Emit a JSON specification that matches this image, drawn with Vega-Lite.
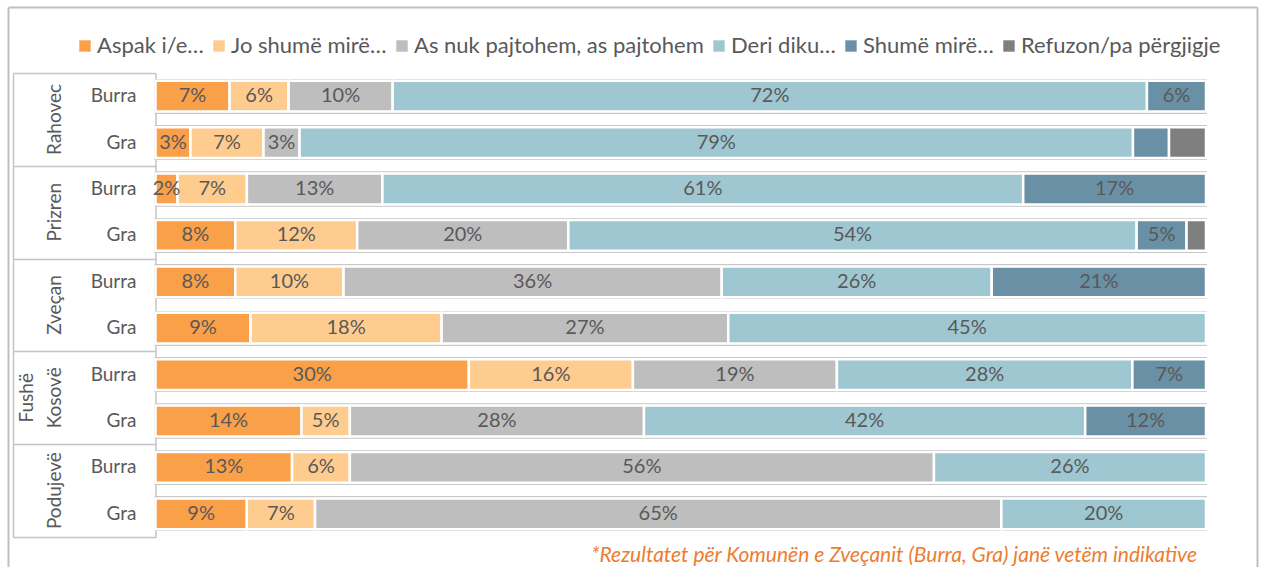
{
  "$schema": "https://vega.github.io/schema/vega-lite/v6.json",
  "width": 1249,
  "height": 560,
  "autosize": {"type": "none"},
  "padding": {"left": 8, "top": 7, "right": 4, "bottom": 0},
  "background": "white",
  "config": {"view": {"stroke": null}, "font": "Lato"},
  "title": {
    "text": "*Rezultatet për Komunën e Zveçanit (Burra, Gra) janë vetëm indikative",
    "orient": "bottom", "anchor": "end", "frame": "group", "offset": -5, "baseline": "alphabetic", "dx": -60,
    "font": "Lato", "fontSize": 21, "fontStyle": "italic", "fontWeight": "normal", "color": "#ED7D31"
  },
  "data": {"values": [
    {"m": "Rahovec", "g": "Burra", "key": "Rahovec|Burra", "cat": "Aspak i/e…", "k": 1, "v": 7.05, "label": "7%"},
    {"m": "Rahovec", "g": "Burra", "key": "Rahovec|Burra", "cat": "Jo shumë mirë…", "k": 2, "v": 5.62, "label": "6%"},
    {"m": "Rahovec", "g": "Burra", "key": "Rahovec|Burra", "cat": "As nuk pajtohem, as pajtohem", "k": 3, "v": 9.9, "label": "10%"},
    {"m": "Rahovec", "g": "Burra", "key": "Rahovec|Burra", "cat": "Deri diku…", "k": 4, "v": 71.8, "label": "72%"},
    {"m": "Rahovec", "g": "Burra", "key": "Rahovec|Burra", "cat": "Shumë mirë…", "k": 5, "v": 5.62, "label": "6%"},
    {"m": "Rahovec", "g": "Gra", "key": "Rahovec|Gra", "cat": "Aspak i/e…", "k": 1, "v": 3.33, "label": "3%"},
    {"m": "Rahovec", "g": "Gra", "key": "Rahovec|Gra", "cat": "Jo shumë mirë…", "k": 2, "v": 6.95, "label": "7%"},
    {"m": "Rahovec", "g": "Gra", "key": "Rahovec|Gra", "cat": "As nuk pajtohem, as pajtohem", "k": 3, "v": 3.43, "label": "3%"},
    {"m": "Rahovec", "g": "Gra", "key": "Rahovec|Gra", "cat": "Deri diku…", "k": 4, "v": 79.3, "label": "79%"},
    {"m": "Rahovec", "g": "Gra", "key": "Rahovec|Gra", "cat": "Shumë mirë…", "k": 5, "v": 3.43, "label": ""},
    {"m": "Rahovec", "g": "Gra", "key": "Rahovec|Gra", "cat": "Refuzon/pa përgjigje", "k": 6, "v": 3.52, "label": ""},
    {"m": "Prizren", "g": "Burra", "key": "Prizren|Burra", "cat": "Aspak i/e…", "k": 1, "v": 2.1, "label": "2%"},
    {"m": "Prizren", "g": "Burra", "key": "Prizren|Burra", "cat": "Jo shumë mirë…", "k": 2, "v": 6.6, "label": "7%"},
    {"m": "Prizren", "g": "Burra", "key": "Prizren|Burra", "cat": "As nuk pajtohem, as pajtohem", "k": 3, "v": 12.9, "label": "13%"},
    {"m": "Prizren", "g": "Burra", "key": "Prizren|Burra", "cat": "Deri diku…", "k": 4, "v": 61.0, "label": "61%"},
    {"m": "Prizren", "g": "Burra", "key": "Prizren|Burra", "cat": "Shumë mirë…", "k": 5, "v": 17.4, "label": "17%"},
    {"m": "Prizren", "g": "Gra", "key": "Prizren|Gra", "cat": "Aspak i/e…", "k": 1, "v": 7.6, "label": "8%"},
    {"m": "Prizren", "g": "Gra", "key": "Prizren|Gra", "cat": "Jo shumë mirë…", "k": 2, "v": 11.6, "label": "12%"},
    {"m": "Prizren", "g": "Gra", "key": "Prizren|Gra", "cat": "As nuk pajtohem, as pajtohem", "k": 3, "v": 20.1, "label": "20%"},
    {"m": "Prizren", "g": "Gra", "key": "Prizren|Gra", "cat": "Deri diku…", "k": 4, "v": 54.1, "label": "54%"},
    {"m": "Prizren", "g": "Gra", "key": "Prizren|Gra", "cat": "Shumë mirë…", "k": 5, "v": 4.75, "label": "5%"},
    {"m": "Prizren", "g": "Gra", "key": "Prizren|Gra", "cat": "Refuzon/pa përgjigje", "k": 6, "v": 1.85, "label": ""},
    {"m": "Zveçan", "g": "Burra", "key": "Zveçan|Burra", "cat": "Aspak i/e…", "k": 1, "v": 7.6, "label": "8%"},
    {"m": "Zveçan", "g": "Burra", "key": "Zveçan|Burra", "cat": "Jo shumë mirë…", "k": 2, "v": 10.3, "label": "10%"},
    {"m": "Zveçan", "g": "Burra", "key": "Zveçan|Burra", "cat": "As nuk pajtohem, as pajtohem", "k": 3, "v": 36.0, "label": "36%"},
    {"m": "Zveçan", "g": "Burra", "key": "Zveçan|Burra", "cat": "Deri diku…", "k": 4, "v": 25.7, "label": "26%"},
    {"m": "Zveçan", "g": "Burra", "key": "Zveçan|Burra", "cat": "Shumë mirë…", "k": 5, "v": 20.4, "label": "21%"},
    {"m": "Zveçan", "g": "Gra", "key": "Zveçan|Gra", "cat": "Aspak i/e…", "k": 1, "v": 9.05, "label": "9%"},
    {"m": "Zveçan", "g": "Gra", "key": "Zveçan|Gra", "cat": "Jo shumë mirë…", "k": 2, "v": 18.2, "label": "18%"},
    {"m": "Zveçan", "g": "Gra", "key": "Zveçan|Gra", "cat": "As nuk pajtohem, as pajtohem", "k": 3, "v": 27.3, "label": "27%"},
    {"m": "Zveçan", "g": "Gra", "key": "Zveçan|Gra", "cat": "Deri diku…", "k": 4, "v": 45.5, "label": "45%"},
    {"m": "Fushë Kosovë", "g": "Burra", "key": "Fushë Kosovë|Burra", "cat": "Aspak i/e…", "k": 1, "v": 29.8, "label": "30%"},
    {"m": "Fushë Kosovë", "g": "Burra", "key": "Fushë Kosovë|Burra", "cat": "Jo shumë mirë…", "k": 2, "v": 15.6, "label": "16%"},
    {"m": "Fushë Kosovë", "g": "Burra", "key": "Fushë Kosovë|Burra", "cat": "As nuk pajtohem, as pajtohem", "k": 3, "v": 19.4, "label": "19%"},
    {"m": "Fushë Kosovë", "g": "Burra", "key": "Fushë Kosovë|Burra", "cat": "Deri diku…", "k": 4, "v": 28.1, "label": "28%"},
    {"m": "Fushë Kosovë", "g": "Burra", "key": "Fushë Kosovë|Burra", "cat": "Shumë mirë…", "k": 5, "v": 7.0, "label": "7%"},
    {"m": "Fushë Kosovë", "g": "Gra", "key": "Fushë Kosovë|Gra", "cat": "Aspak i/e…", "k": 1, "v": 13.9, "label": "14%"},
    {"m": "Fushë Kosovë", "g": "Gra", "key": "Fushë Kosovë|Gra", "cat": "Jo shumë mirë…", "k": 2, "v": 4.6, "label": "5%"},
    {"m": "Fushë Kosovë", "g": "Gra", "key": "Fushë Kosovë|Gra", "cat": "As nuk pajtohem, as pajtohem", "k": 3, "v": 28.0, "label": "28%"},
    {"m": "Fushë Kosovë", "g": "Gra", "key": "Fushë Kosovë|Gra", "cat": "Deri diku…", "k": 4, "v": 42.0, "label": "42%"},
    {"m": "Fushë Kosovë", "g": "Gra", "key": "Fushë Kosovë|Gra", "cat": "Shumë mirë…", "k": 5, "v": 11.5, "label": "12%"},
    {"m": "Podujevë", "g": "Burra", "key": "Podujevë|Burra", "cat": "Aspak i/e…", "k": 1, "v": 13.0, "label": "13%"},
    {"m": "Podujevë", "g": "Burra", "key": "Podujevë|Burra", "cat": "Jo shumë mirë…", "k": 2, "v": 5.5, "label": "6%"},
    {"m": "Podujevë", "g": "Burra", "key": "Podujevë|Burra", "cat": "As nuk pajtohem, as pajtohem", "k": 3, "v": 55.6, "label": "56%"},
    {"m": "Podujevë", "g": "Burra", "key": "Podujevë|Burra", "cat": "Deri diku…", "k": 4, "v": 25.9, "label": "26%"},
    {"m": "Podujevë", "g": "Gra", "key": "Podujevë|Gra", "cat": "Aspak i/e…", "k": 1, "v": 8.7, "label": "9%"},
    {"m": "Podujevë", "g": "Gra", "key": "Podujevë|Gra", "cat": "Jo shumë mirë…", "k": 2, "v": 6.5, "label": "7%"},
    {"m": "Podujevë", "g": "Gra", "key": "Podujevë|Gra", "cat": "As nuk pajtohem, as pajtohem", "k": 3, "v": 65.4, "label": "65%"},
    {"m": "Podujevë", "g": "Gra", "key": "Podujevë|Gra", "cat": "Deri diku…", "k": 4, "v": 19.5, "label": "20%"}
  ]},
  "resolve": {"scale": {"x": "independent", "y": "independent"}, "axis": {"x": "independent", "y": "independent"}},
  "layer": [
    {
      "mark": {"type": "bar", "fill": "white", "stroke": "#C6C6C6", "strokeWidth": 1.3, "height": {"band": 1.08}},
      "encoding": {
        "y": {"field": "key", "type": "nominal", "sort": null, "scale": {"range": [66, 530], "paddingInner": 0.336, "paddingOuter": 0.168}, "axis": null},
        "x": {"datum": 0, "type": "quantitative", "scale": {"domain": [0, 1], "range": [147.5, 1198]}, "axis": null},
        "x2": {"datum": 1}
      }
    },
    {
      "mark": {"type": "bar", "stroke": "white", "strokeWidth": 2.5},
      "encoding": {
        "y": {"field": "key", "type": "nominal", "sort": null, "scale": {"range": [66, 530], "paddingInner": 0.336, "paddingOuter": 0.168},
          "axis": {"orient": "left", "offset": -147.5, "domain": false, "ticks": false, "grid": false, "title": null, "labelPadding": 19.5, "labelExpr": "split(datum.label, '|')[1]", "labelFontSize": 19, "labelColor": "#595959", "labelFont": "Lato"}},
        "x": {"field": "v", "type": "quantitative", "stack": "normalize", "scale": {"domain": [0, 1], "range": [147.5, 1198]}, "axis": null},
        "color": {"field": "cat", "type": "nominal",
          "scale": {"domain": ["Aspak i/e…", "Jo shumë mirë…", "As nuk pajtohem, as pajtohem", "Deri diku…", "Shumë mirë…", "Refuzon/pa përgjigje"],
                    "range": ["#F9A049", "#FFCC90", "#BEBEBE", "#9FC7D1", "#6990A4", "#7F7F7F"]},
          "legend": {"orient": "none", "legendX": 66, "legendY": 28, "direction": "horizontal", "columns": 6, "title": null, "symbolType": "square", "symbolSize": 130, "symbolStrokeWidth": 0, "labelFontSize": 22, "labelFont": "Lato", "labelColor": "#595959", "labelLimit": 500, "columnPadding": 4, "labelOffset": 1, "padding": 0}},
        "order": {"field": "k", "type": "quantitative"}
      }
    },
    {
      "mark": {"type": "text", "fontSize": 20, "color": "#595959", "font": "Lato", "baseline": "middle", "align": "center"},
      "encoding": {
        "y": {"field": "key", "type": "nominal", "sort": null, "scale": {"range": [66, 530], "paddingInner": 0.336, "paddingOuter": 0.168}, "axis": null},
        "x": {"field": "v", "type": "quantitative", "stack": "normalize", "bandPosition": 0.5, "scale": {"domain": [0, 1], "range": [147.5, 1198]}, "axis": null},
        "detail": {"field": "cat"},
        "order": {"field": "k", "type": "quantitative"},
        "text": {"field": "label"}
      }
    },
    {
      "mark": {"type": "point", "opacity": 0},
      "encoding": {
        "y": {"field": "m", "type": "nominal", "sort": null, "scale": {"type": "band", "range": [66, 530], "paddingInner": 0, "paddingOuter": 0},
          "axis": {"orient": "left", "offset": -147.5, "domain": true, "domainColor": "#C4C4C4", "domainWidth": 1.5, "ticks": true, "tickBand": "extent", "tickSize": 142.5, "tickColor": "#C4C4C4", "tickWidth": 1.5, "labels": false, "grid": false, "title": null}}
      }
    },
    {
      "mark": {"type": "point", "opacity": 0},
      "encoding": {
        "y": {"field": "m", "type": "nominal", "sort": null, "scale": {"type": "band", "range": [66, 530], "paddingInner": 0, "paddingOuter": 0},
          "axis": {"orient": "left", "offset": -5, "domain": true, "domainColor": "#C4C4C4", "domainWidth": 1.5, "ticks": false, "grid": false, "title": null, "labels": true, "labelAngle": -90, "labelAlign": "center", "labelBaseline": "bottom",
            "labelPadding": {"condition": {"test": "indexof(datum.label, ' ') >= 0", "value": -23}, "value": -51},
            "labelExpr": "split(datum.label, ' ')", "labelLineHeight": 28, "labelFontSize": 19, "labelColor": "#595959", "labelFont": "Lato"}}
      }
    },
    {
      "mark": {"type": "point", "opacity": 0},
      "encoding": {
        "y": {"field": "m", "type": "nominal", "sort": null, "axis": {"orient": "left", "offset": 0, "domain": true, "domainColor": "#BFBFBF", "domainWidth": 2, "ticks": false, "labels": false, "grid": false, "title": null}},
        "x": {"field": "m", "type": "nominal", "sort": null, "axis": {"orient": "top", "offset": 0, "domain": true, "domainColor": "#BFBFBF", "domainWidth": 2, "ticks": false, "labels": false, "grid": false, "title": null}}
      }
    },
    {
      "mark": {"type": "point", "opacity": 0},
      "encoding": {
        "y": {"field": "m", "type": "nominal", "sort": null, "axis": {"orient": "right", "offset": 0, "domain": true, "domainColor": "#BFBFBF", "domainWidth": 2, "ticks": false, "labels": false, "grid": false, "title": null}}
      }
    }
  ]
}
